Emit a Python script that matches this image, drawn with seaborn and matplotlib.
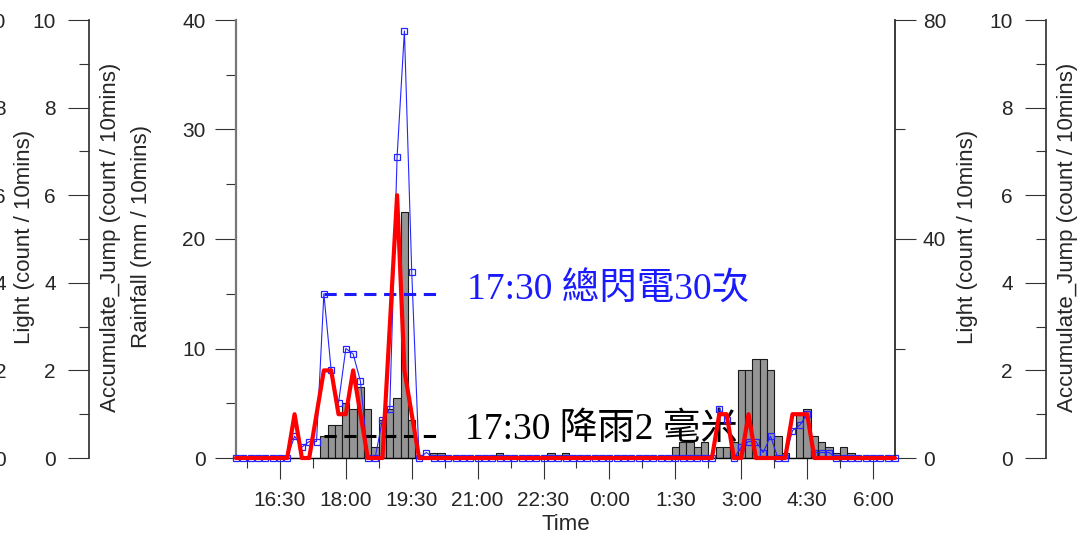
import numpy as np
import pandas as pd
import matplotlib
matplotlib.use('Agg')
import matplotlib.pyplot as plt
from matplotlib.ticker import FixedLocator, MultipleLocator
import seaborn as sns

# 10-minute steps, 15:30 -> 6:30 next day (minutes since 15:30)
minutes = np.arange(0, 910, 10)

# rainfall (mm / 10mins)
rainfall = [0, 0, 0, 0, 0, 0, 0, 0, 0, 0,
            0, 0, 2, 3, 3, 5, 4.5, 6.5, 4.5, 1,
            3.5, 4.5, 5.5, 22.5, 3.5, 0, 0, 0.5, 0.5, 0,
            0, 0, 0, 0, 0, 0, 0.5, 0, 0, 0,
            0, 0, 0, 0.5, 0, 0.5, 0, 0, 0, 0,
            0, 0, 0, 0, 0, 0, 0, 0, 0, 0,
            1, 1.5, 1.5, 1, 1.5, 0, 1, 1, 1.5, 8,
            8, 9, 9, 8, 2, 0.5, 0, 4, 4.5, 2,
            1.5, 1, 0.5, 1, 0.5, 0, 0, 0, 0, 0,
            0]

# lightning count (blue squares, right 0-80 axis)
light = [0, 0, 0, 0, 0, 0, 0, 0, 4, 2,
         3, 3, 30, 16, 10, 20, 19, 14, 0, 0,
         7, 9, 55, 78, 34, 0, 1, 0, 0, 0,
         0, 0, 0, 0, 0, 0, 0, 0, 0, 0,
         0, 0, 0, 0, 0, 0, 0, 0, 0, 0,
         0, 0, 0, 0, 0, 0, 0, 0, 0, 0,
         0, 0, 0, 0, 0, 0, 9, 7, 0, 2,
         3, 3, 1, 4, 0, 0, 5, 6, 8, 1,
         1, 1, 0, 0, 0, 0, 0, 0, 0, 0,
         0]

# accumulate jump (red line, 0-10 axes)
jump = [0, 0, 0, 0, 0, 0, 0, 0, 1, 0,
        0, 1, 2, 2, 1, 1, 2, 1, 0, 0,
        0, 3, 6, 2, 1, 0, 0, 0, 0, 0,
        0, 0, 0, 0, 0, 0, 0, 0, 0, 0,
        0, 0, 0, 0, 0, 0, 0, 0, 0, 0,
        0, 0, 0, 0, 0, 0, 0, 0, 0, 0,
        0, 0, 0, 0, 0, 0, 1, 1, 0, 0,
        1, 0, 0, 0, 0, 0, 1, 1, 1, 0,
        0, 0, 0, 0, 0, 0, 0, 0, 0, 0,
        0]

tick_pos = [60, 150, 240, 330, 420, 510, 600, 690, 780, 870]
tick_labels = ['16:30', '18:00', '19:30', '21:00', '22:30',
               '0:00', '1:30', '3:00', '4:30', '6:00']
minor_pos = [15, 105, 195, 285, 375, 465, 555, 645, 735, 825]

# annotation at 17:30
ann_idx = 12
ann_end = 283

df = pd.DataFrame({'t': minutes, 'rain': rainfall, 'light': light, 'jump': jump})

sns.set_theme(style='ticks')
plt.rcParams['font.family'] = ['Liberation Sans', 'DejaVu Sans']
serif = ['Liberation Serif', 'Noto Sans CJK TC']

W, H = 1081, 537
fig = plt.figure(figsize=(W / 100, H / 100), dpi=100)
ax = fig.add_axes([236 / W, 79 / H, 659 / W, 438 / H])
ax_light = ax.twinx()
ax_jump = ax.twinx()
ax_jump_r = ax.twinx()
ax_light_l = ax.twinx()

# bars - rainfall
sns.barplot(data=df, x='t', y='rain', native_scale=True, width=1, color='#959595',
            edgecolor='#1a1a1a', linewidth=0.8, saturation=1, errorbar=None, ax=ax)
# blue - lightning
sns.lineplot(data=df, x='t', y='light', ax=ax_light, color='#2525ff', lw=0.8,
             marker='s', markersize=4.5, markerfacecolor='none',
             markeredgecolor='#2525ff', markeredgewidth=0.9, clip_on=False)
# red - accumulate jump
sns.lineplot(data=df, x='t', y='jump', ax=ax_jump, color='#ff0000', lw=3, clip_on=False)

dash = (0, (4, 2.5))
ax_light.plot([minutes[ann_idx], ann_end], [light[ann_idx], light[ann_idx]],
              ls=dash, lw=2.2, color='#1a1aff', zorder=5)
ax.plot([minutes[ann_idx], ann_end], [rainfall[ann_idx], rainfall[ann_idx]],
        ls=dash, lw=2.2, color='black', zorder=5)
ax_light.text(316, 30.6, '17:30 總閃電30次', color='#1a1aff', fontsize=27,
              family=serif, va='center', ha='left')
ax.text(313, 2.6, '17:30 降雨2 毫米', color='black', fontsize=27,
        family=serif, va='center', ha='left')

# x axis
ax.set_xlim(0, 900)
ax.xaxis.set_major_locator(FixedLocator(tick_pos))
ax.xaxis.set_minor_locator(FixedLocator(minor_pos))
ax.set_xticklabels(tick_labels)
ax.tick_params(axis='x', which='major', length=15, width=0.8, labelsize=15,
               pad=9, color='#333333', direction='out')
ax.tick_params(axis='x', which='minor', length=7.5, width=0.8, color='#333333',
               direction='out')
ax.set_xlabel('Time', fontsize=16, labelpad=3)

for a in [ax, ax_light, ax_jump, ax_jump_r, ax_light_l]:
    for s in a.spines.values():
        s.set_visible(False)
    a.set_ylabel('')
    a.tick_params(axis='y', which='major', length=15, width=0.8, labelsize=15,
                  color='#333333', direction='out')
    a.tick_params(axis='y', which='minor', length=7.5, width=0.8,
                  color='#333333', direction='out')

ax.spines['bottom'].set_visible(True)
ax.spines['bottom'].set_color('black')
ax.spines['bottom'].set_linewidth(1)

# rainfall axis
ax.set_ylim(0, 40)
ax.yaxis.set_major_locator(MultipleLocator(10))
ax.yaxis.set_minor_locator(MultipleLocator(5))
ax.spines['left'].set_visible(True)
ax.spines['left'].set_color('#777777')
ax.spines['left'].set_linewidth(1.6)
ax.tick_params(axis='y', which='major', pad=7)

# lightning axis (right)
ax_light.set_ylim(0, 80)
ax_light.yaxis.set_major_locator(MultipleLocator(40))
ax_light.yaxis.set_minor_locator(MultipleLocator(20))
ax_light.spines['right'].set_visible(True)
ax_light.spines['right'].set_color('#222222')
ax_light.tick_params(axis='y', which='major', pad=5)

# accumulate jump axes (left and right), 0-10
for a, xpos in [(ax_jump, -147 / 659), (ax_jump_r, 810 / 659)]:
    a.set_ylim(0, 10)
    a.yaxis.set_major_locator(MultipleLocator(2))
    a.yaxis.set_minor_locator(MultipleLocator(1))
    a.yaxis.set_ticks_position('left')
    a.spines['left'].set_visible(True)
    a.spines['left'].set_position(('axes', xpos))
    a.spines['left'].set_color('#333333')
    a.tick_params(axis='y', which='major', pad=9)

# far-left light axis, mostly outside the picture
ax_light_l.set_ylim(0, 10)
ax_light_l.yaxis.set_major_locator(MultipleLocator(2))
ax_light_l.yaxis.set_ticks_position('right')
ax_light_l.spines['right'].set_visible(True)
ax_light_l.spines['right'].set_position(('axes', -266 / 659))
ax_light_l.tick_params(axis='y', which='major', pad=11)
for lbl in ax_light_l.get_yticklabels():
    lbl.set_horizontalalignment('right')

# y labels
yc = 1 - 237 / H
for x, txt in [(25, 'Light (count / 10mins)'),
               (111, 'Accumulate_Jump (count / 10mins)'),
               (141, 'Rainfall (mm / 10mins)'),
               (968, 'Light (count / 10mins)'),
               (1068, 'Accumulate_Jump (count / 10mins)')]:
    fig.text(x / W, yc, txt, rotation=90, fontsize=16, ha='center', va='center')

fig.savefig('out.png', dpi=100)
